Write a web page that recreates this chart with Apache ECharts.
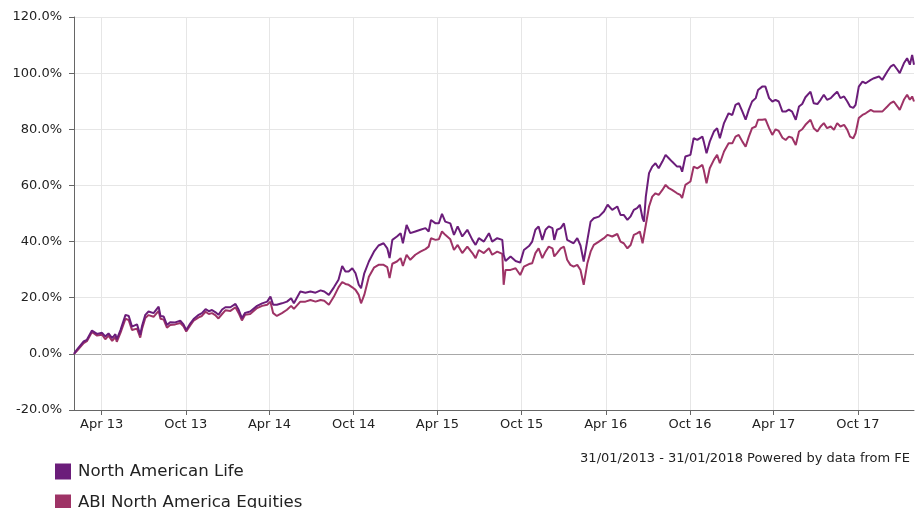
<!DOCTYPE html>
<html>
<head>
<meta charset="utf-8">
<script src="https://cdn.jsdelivr.net/npm/echarts@6/dist/echarts.min.js"></script>
<style>
  html, body { margin: 0; padding: 0; background: #fff; }
  #main { width: 916px; height: 508px; }
</style>
</head>
<body>
<div id="main"></div>
<script>
// sample dates
var dates = [
  "2013-01-31","2013-02-06","2013-02-21","2013-02-28","2013-03-11","2013-03-22","2013-04-02","2013-04-09","2013-04-16","2013-04-24",
  "2013-05-01","2013-05-04","2013-05-12","2013-05-23","2013-05-30","2013-06-06","2013-06-17","2013-06-24","2013-06-28","2013-07-05",
  "2013-07-12","2013-07-23","2013-08-03","2013-08-07","2013-08-14","2013-08-21","2013-08-28","2013-09-08","2013-09-19","2013-09-26",
  "2013-10-02","2013-10-11","2013-10-18","2013-10-29","2013-11-05","2013-11-13","2013-11-20","2013-11-27","2013-12-04","2013-12-11",
  "2013-12-19","2013-12-26","2014-01-06","2014-01-17","2014-01-24","2014-01-31","2014-02-07","2014-02-18","2014-03-05","2014-03-16",
  "2014-03-27","2014-04-03","2014-04-09","2014-04-17","2014-04-28","2014-05-09","2014-05-18","2014-05-24","2014-06-07","2014-06-18",
  "2014-06-29","2014-07-10","2014-07-21","2014-07-29","2014-08-08","2014-08-19","2014-08-29","2014-09-06","2014-09-13","2014-09-20",
  "2014-09-28","2014-10-05","2014-10-12","2014-10-17","2014-10-24","2014-11-03","2014-11-14","2014-11-24","2014-12-05","2014-12-13",
  "2014-12-18","2014-12-24","2015-01-03","2015-01-11","2015-01-16","2015-01-24","2015-02-01","2015-02-12","2015-02-23","2015-03-06",
  "2015-03-13","2015-03-18","2015-03-28","2015-04-04","2015-04-11","2015-04-18","2015-04-29","2015-05-07","2015-05-15","2015-05-25",
  "2015-06-05","2015-06-16","2015-06-23","2015-06-30","2015-07-11","2015-07-22","2015-07-29","2015-08-09","2015-08-20","2015-08-23",
  "2015-08-27","2015-09-07","2015-09-18","2015-09-28","2015-10-06","2015-10-17","2015-10-24","2015-10-31","2015-11-07","2015-11-15",
  "2015-11-22","2015-11-29","2015-12-07","2015-12-11","2015-12-17","2015-12-25","2016-01-01","2016-01-08","2016-01-15","2016-01-22",
  "2016-01-30","2016-02-06","2016-02-13","2016-02-21","2016-02-28","2016-03-06","2016-03-17","2016-03-28","2016-04-05","2016-04-15",
  "2016-04-26","2016-05-03","2016-05-10","2016-05-18","2016-05-25","2016-06-01","2016-06-08","2016-06-14","2016-06-20","2016-06-23",
  "2016-06-27","2016-07-04","2016-07-11","2016-07-18","2016-07-25","2016-08-02","2016-08-09","2016-08-16","2016-08-23","2016-09-03",
  "2016-09-10","2016-09-14","2016-09-21","2016-10-02","2016-10-09","2016-10-17","2016-10-28","2016-10-31","2016-11-06","2016-11-13",
  "2016-11-22","2016-11-29","2016-12-05","2016-12-14","2016-12-24","2017-01-01","2017-01-08","2017-01-15","2017-01-23","2017-01-30",
  "2017-02-06","2017-02-13","2017-02-21","2017-02-26","2017-03-07","2017-03-14","2017-03-22","2017-03-29","2017-04-05","2017-04-12",
  "2017-04-20","2017-04-27","2017-05-04","2017-05-11","2017-05-19","2017-05-26","2017-06-02","2017-06-09","2017-06-20","2017-06-27",
  "2017-07-05","2017-07-12","2017-07-19","2017-07-26","2017-08-03","2017-08-10","2017-08-17","2017-08-24","2017-09-01","2017-09-08",
  "2017-09-14","2017-09-21","2017-09-26","2017-10-03","2017-10-11","2017-10-18","2017-10-29","2017-11-05","2017-11-16","2017-11-23",
  "2017-12-04","2017-12-11","2017-12-18","2017-12-26","2017-12-31","2018-01-09","2018-01-16","2018-01-22","2018-01-27","2018-01-31"
];

// North American Life, cumulative % growth
var nal = [
  0, 1.4, 4.4, 5.0, 8.3, 7.1, 7.5, 6.2, 7.3, 5.6,
  7.0, 5.2, 8.5, 13.9, 13.5, 9.7, 10.5, 6.8, 10.0, 13.9,
  15.1, 14.5, 16.8, 13.5, 13.3, 10.3, 11.3, 11.2, 11.8, 10.5,
  8.5, 10.9, 12.4, 13.9, 14.5, 15.9, 15.2, 15.6, 14.9, 13.9,
  15.8, 16.6, 16.6, 17.8, 15.7, 12.7, 14.6, 15.1, 17.1, 18.0,
  18.6, 20.4, 17.5, 17.5, 18.0, 18.6, 19.8, 18.0, 22.2, 21.8,
  22.2, 21.8, 22.6, 22.2, 21.0, 23.7, 26.4, 31.3, 29.3, 29.3,
  30.5, 28.7, 24.6, 23.4, 28.7, 32.9, 36.4, 38.6, 39.4, 37.6,
  34.1, 40.6, 41.8, 43.0, 39.4, 45.9, 43.0, 43.6, 44.2, 44.8,
  43.6, 47.7, 46.5, 46.5, 49.9, 47.1, 46.5, 42.4, 45.4, 41.8,
  44.2, 40.6, 38.8, 41.2, 40.0, 43.0, 40.0, 41.2, 40.6, 35.3,
  33.1, 34.7, 33.1, 32.5, 37.0, 38.4, 40.0, 44.2, 45.4, 40.6,
  44.2, 45.4, 44.8, 40.6, 44.2, 44.8, 46.5, 40.6, 40.0, 39.4,
  41.2, 38.6, 32.9, 40.6, 47.1, 48.3, 48.9, 50.7, 53.1, 51.3,
  52.5, 49.5, 49.5, 47.7, 49.0, 51.3, 51.9, 53.1, 48.3, 47.1,
  56.0, 64.4, 66.7, 67.9, 66.1, 68.5, 70.9, 69.7, 68.5, 66.7,
  66.7, 64.9, 70.3, 70.9, 76.8, 76.2, 77.4, 75.6, 71.5, 75.6,
  79.2, 80.4, 76.8, 82.2, 85.7, 85.1, 88.7, 89.3, 86.3, 83.4,
  87.0, 89.9, 91.1, 94.0, 95.2, 95.2, 91.1, 89.9, 90.5, 89.9,
  86.3, 86.3, 87.0, 86.3, 83.4, 88.1, 89.0, 91.4, 93.4, 89.3,
  89.0, 90.5, 92.3, 90.5, 91.1, 92.3, 93.4, 91.1, 91.7, 89.9,
  88.1, 87.6, 88.7, 95.2, 97.0, 96.4, 97.6, 98.2, 98.8, 97.6,
  100.6, 102.3, 103.0, 101.2, 100.0, 103.5, 105.3, 103.0, 106.5, 103.0
];

// ABI North America Equities, cumulative % growth
var abi = [
  0, 1.0, 3.8, 4.5, 7.8, 6.5, 6.8, 5.2, 6.5, 4.6,
  6.0, 4.3, 7.5, 12.5, 12.0, 8.5, 9.0, 5.8, 9.0, 12.8,
  13.8, 13.2, 15.3, 12.5, 12.2, 9.3, 10.3, 10.5, 11.0, 9.8,
  8.0, 10.2, 11.8, 13.0, 13.5, 15.0, 14.2, 14.5, 13.8, 12.6,
  14.2, 15.5, 15.3, 16.6, 14.5, 11.9, 13.9, 14.2, 16.3, 17.1,
  17.5, 18.6, 14.5, 13.5, 14.5, 15.7, 17.1, 16.0, 18.6, 18.6,
  19.2, 18.6, 19.2, 18.9, 17.5, 20.4, 23.7, 25.6, 24.9, 24.6,
  23.7, 22.8, 21.0, 18.0, 21.0, 27.5, 30.7, 31.7, 31.7, 30.9,
  27.0, 32.1, 32.9, 34.1, 31.3, 35.3, 33.5, 35.3, 36.4, 37.3,
  38.2, 41.2, 40.6, 40.8, 43.6, 42.4, 40.8, 37.0, 38.8, 35.9,
  38.2, 35.9, 34.1, 37.0, 35.9, 37.6, 35.3, 36.4, 35.6, 24.6,
  29.9, 29.9, 30.5, 28.1, 31.1, 32.0, 32.3, 35.9, 37.6, 34.1,
  36.4, 38.2, 37.6, 34.7, 35.9, 37.6, 38.2, 33.5, 31.7, 31.1,
  31.7, 29.9, 24.6, 32.3, 36.4, 38.8, 40.0, 41.2, 42.4, 41.8,
  42.7, 40.0, 39.4, 37.6, 38.8, 42.4, 42.9, 43.6, 39.4, 38.8,
  45.9, 52.5, 56.0, 57.2, 56.6, 58.4, 60.2, 59.0, 58.4, 57.2,
  56.6, 55.5, 60.2, 61.4, 66.7, 66.1, 67.3, 65.5, 60.8, 66.1,
  69.1, 70.9, 67.9, 72.1, 75.0, 75.0, 77.4, 78.0, 75.6, 73.8,
  77.4, 80.4, 81.0, 83.4, 83.4, 83.6, 80.4, 78.0, 80.0, 79.4,
  77.0, 76.2, 77.4, 77.0, 74.4, 79.2, 80.0, 81.6, 83.4, 80.4,
  79.2, 81.0, 82.2, 80.4, 81.0, 79.8, 82.2, 81.0, 81.6, 79.8,
  77.4, 76.8, 78.6, 84.0, 85.1, 85.7, 86.9, 86.3, 86.3, 86.3,
  88.1, 89.3, 89.9, 88.1, 86.9, 90.5, 92.3, 90.5, 91.7, 89.9
];

var seriesNames = ["North American Life", "ABI North America Equities"];
var tickDates = ["2013-04-01","2013-10-01","2014-04-01","2014-10-01","2015-04-01",
                 "2015-10-01","2016-04-01","2016-10-01","2017-04-01","2017-10-01"];
var startDate = "2013-01-31";
var endDate = "2018-01-31";
var footerText = "31/01/2013 - 31/01/2018 Powered by data from FE";

var monthNames = ["Jan","Feb","Mar","Apr","May","Jun","Jul","Aug","Sep","Oct","Nov","Dec"];
var FONT = "DejaVu Sans";

// dates -> UTC timestamps, x axis is a plain value axis
function ts(s) {
  var p = s.split("-");
  return Date.UTC(+p[0], +p[1] - 1, +p[2]);
}
function pairs(vals) {
  return dates.map(function (d, i) { return [ts(d), vals[i]]; });
}
var tickTs = tickDates.map(ts);

var chart = echarts.init(document.getElementById("main"));
var gridColors = ["#e6e6e6", "#a8a8a8", "#e6e6e6", "#e6e6e6", "#e6e6e6", "#e6e6e6", "#e6e6e6", "#e6e6e6"];

chart.setOption({
  animation: false,
  backgroundColor: "#fff",
  textStyle: { fontFamily: FONT },
  title: {
    text: footerText,
    right: 1,
    top: 447,
    textStyle: { fontFamily: FONT, fontSize: 13, fontWeight: "normal", color: "#222" }
  },
  legend: {
    orient: "vertical",
    left: 55,
    top: 463,
    height: 120,
    padding: 0,
    icon: "rect",
    itemWidth: 16,
    itemHeight: 16,
    itemGap: 14,
    data: seriesNames,
    textStyle: { fontFamily: FONT, fontSize: 16.6, color: "#222", padding: [0, 0, 0, 2] }
  },
  grid: { left: 74, right: 2, top: 17, bottom: 98, containLabel: false },
  xAxis: {
    type: "value",
    min: ts(startDate),
    max: ts(endDate),
    axisLine: { onZero: false, lineStyle: { color: "#666", width: 1 } },
    axisTick: { show: true, length: 5, lineStyle: { color: "#666" }, customValues: tickTs },
    axisLabel: {
      customValues: tickTs,
      fontFamily: FONT, fontSize: 13, color: "#222", margin: 8,
      formatter: function (v) {
        var d = new Date(v);
        return monthNames[d.getUTCMonth()] + " " + String(d.getUTCFullYear()).slice(2);
      }
    },
    splitLine: { show: true, lineStyle: { color: "#e6e6e6" } }
  },
  yAxis: {
    type: "value",
    min: -20,
    max: 120,
    interval: 20,
    axisLine: { show: true, lineStyle: { color: "#666" } },
    axisTick: { show: true, length: 5, lineStyle: { color: "#666" } },
    axisLabel: {
      fontFamily: FONT, fontSize: 13, color: "#222", margin: 12,
      formatter: function (v) { return v.toFixed(1) + "%"; }
    },
    splitLine: { show: true, lineStyle: { color: gridColors } }
  },
  series: [
    {
      name: seriesNames[0],
      type: "line",
      data: pairs(nal),
      showSymbol: false,
      z: 3,
      itemStyle: { color: "#6b1d7a" },
      lineStyle: { color: "#6b1d7a", width: 2 }
    },
    {
      name: seriesNames[1],
      type: "line",
      data: pairs(abi),
      showSymbol: false,
      z: 2,
      itemStyle: { color: "#9e3366" },
      lineStyle: { color: "#9e3366", width: 2 }
    }
  ]
});
</script>
</body>
</html>
